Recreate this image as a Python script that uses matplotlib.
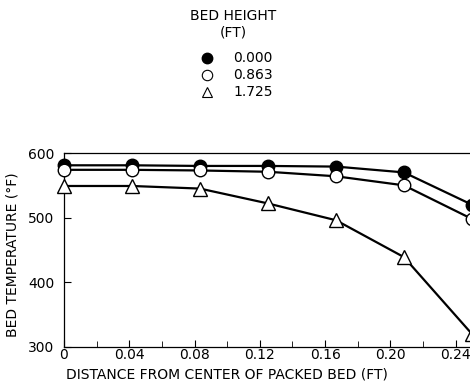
import matplotlib
matplotlib.use("Agg")
import matplotlib.pyplot as plt
from matplotlib.lines import Line2D

# Data (distance from center of packed bed, ft)
distance = [0.0, 0.0417, 0.0833, 0.125, 0.1667, 0.2083, 0.25]
temp_0000 = [581, 581, 580, 580, 579, 570, 520]
temp_0863 = [574, 574, 573, 571, 564, 550, 498]
temp_1725 = [549, 549, 545, 522, 496, 439, 320]

series_labels = ["0.000", "0.863", "1.725"]
x_ticks = [0, 0.04, 0.08, 0.12, 0.16, 0.20, 0.24]
x_ticklabels = ["0", "0.04", "0.08", "0.12", "0.16", "0.20", "0.24"]
y_ticks = [300, 400, 500, 600]

plt.rcParams['font.family'] = ['DejaVu Sans']

fig = plt.figure(figsize=(4.70, 3.83), dpi=100)
ax = fig.add_axes([0.136, 0.094, 0.903, 0.5065])

ax.plot(distance, temp_0000, color='black', lw=1.6, marker='o', ms=9,
        mfc='black', mec='black', zorder=3, clip_on=False)
ax.plot(distance, temp_0863, color='black', lw=1.6, marker='o', ms=9,
        mfc='white', mec='black', mew=1.0, zorder=3, clip_on=False)
ax.plot(distance, temp_1725, color='black', lw=1.6, marker='^', ms=10,
        mfc='white', mec='black', mew=1.0, zorder=3, clip_on=False)

ax.set_xlim(0, 0.26)
ax.set_ylim(300, 600)
ax.set_xticks(x_ticks)
ax.set_xticklabels(x_ticklabels)
ax.set_xticks([0.02, 0.06, 0.10, 0.14, 0.18, 0.22], minor=True)
ax.set_yticks(y_ticks)
ax.tick_params(axis='both', which='both', direction='in', labelsize=10)
ax.tick_params(axis='x', which='major', length=5, pad=1)
ax.tick_params(axis='x', which='minor', length=4)
ax.tick_params(axis='y', which='major', length=5, pad=7)
for s in ax.spines.values():
    s.set_linewidth(0.9)

fig.text(0.012, 0.335, "BED TEMPERATURE (°F)", rotation=90, ha='left', va='center',
         fontsize=10)
fig.text(0.483, 0.023, "DISTANCE FROM CENTER OF PACKED BED (FT)", ha='center',
         va='center', fontsize=10)

# Legend block
fig.text(0.496, 0.958, "BED HEIGHT", ha='center', va='center', fontsize=10)
fig.text(0.496, 0.915, "(FT)", ha='center', va='center', fontsize=10)
row_y = [0.848, 0.804, 0.760]
styles = [dict(marker='o', mfc='black', mec='black', ms=7.5),
          dict(marker='o', mfc='white', mec='black', ms=7.5, mew=0.8),
          dict(marker='^', mfc='white', mec='black', ms=7.5, mew=0.8)]
for yy, lab, st in zip(row_y, series_labels, styles):
    fig.add_artist(Line2D([0.440], [yy], transform=fig.transFigure, ls='none', **st))
    fig.text(0.496, yy, lab, ha='left', va='center', fontsize=10)

fig.savefig("out.png", dpi=100)
